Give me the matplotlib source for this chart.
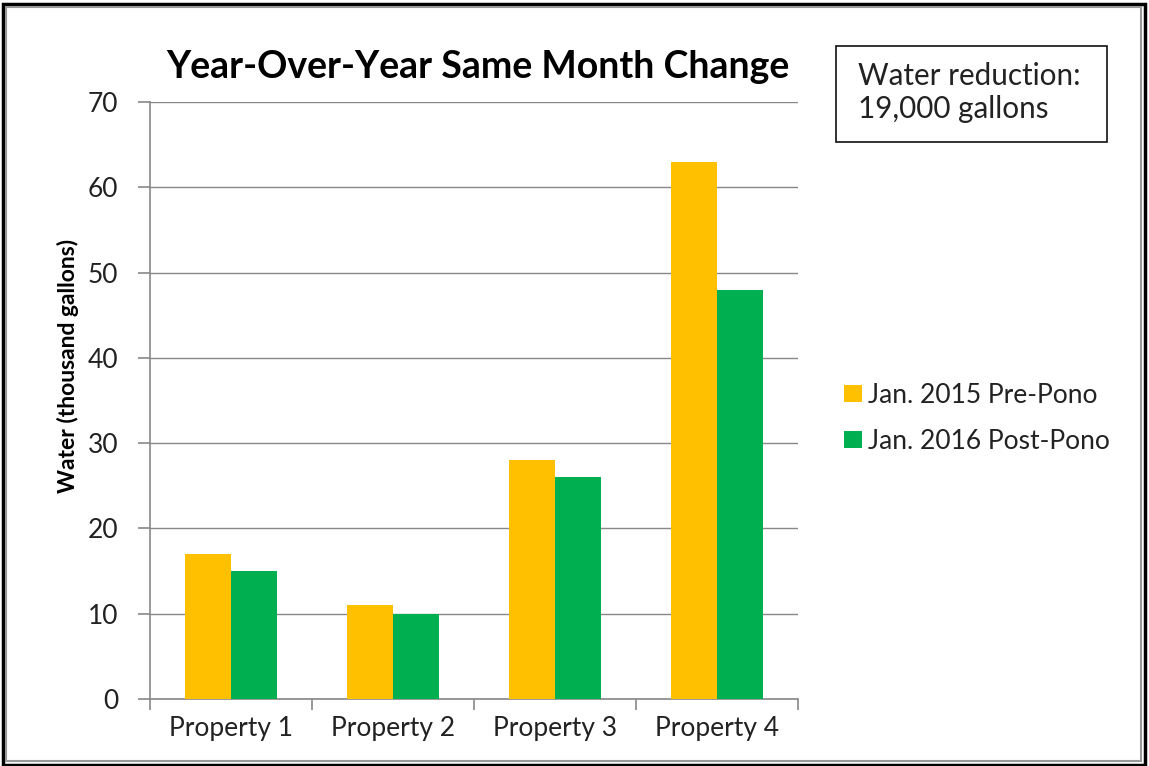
import matplotlib
matplotlib.use("Agg")
import matplotlib.pyplot as plt
from matplotlib.patches import Rectangle
import numpy as np

categories = ["Property 1", "Property 2", "Property 3", "Property 4"]
pre_pono = [17, 11, 28, 63]
post_pono = [15, 10, 26, 48]
series_labels = ["Jan. 2015 Pre-Pono", "Jan. 2016 Post-Pono"]
colors = ["#FFC000", "#00B050"]
yticks = [0, 10, 20, 30, 40, 50, 60, 70]

plt.rcParams['font.family'] = ['Lato', 'DejaVu Sans']

fig = plt.figure(figsize=(11.49, 7.66), dpi=100)
ax = fig.add_axes([150/1149, 1-699/766, 648/1149, 597/766])

x = np.arange(len(categories))
w = 0.284
b1 = ax.bar(x - w/2, pre_pono, w, color=colors[0], label=series_labels[0], zorder=3)
b2 = ax.bar(x + w/2, post_pono, w, color=colors[1], label=series_labels[1], zorder=3)

ax.set_xlim(-0.5, len(categories) - 0.5)
ax.set_ylim(0, 70)
ax.set_yticks(yticks)
ax.set_yticklabels([str(v) for v in yticks], fontsize=19, color="#222222")
ax.set_xticks(x)
ax.set_xticklabels(categories, fontsize=19, color="#222222")
ax.tick_params(axis='x', length=0, pad=12)
ax.set_xticks(np.arange(-0.5, len(categories)), minor=True)
ax.tick_params(axis='x', which='minor', length=8, color="#888888", width=1.2)
ax.tick_params(axis='y', length=9, color="#888888", width=1.2, pad=14)
ax.yaxis.grid(True, color="#888888", linewidth=1.0, zorder=0)
for s in ["top", "right"]:
    ax.spines[s].set_visible(False)
for s in ["left", "bottom"]:
    ax.spines[s].set_color("#888888")
    ax.spines[s].set_linewidth(1.2)

fig.text(68/1149, 1-366/766, "Water (thousand gallons)", rotation=90, ha='center', va='center',
         fontsize=16.5, fontweight='bold')
fig.text(478/1149, 1-67/766, "Year-Over-Year Same Month Change", ha='center', va='center',
         fontsize=27, fontweight='bold')

leg = fig.legend(handles=[b1, b2], loc='upper left', bbox_to_anchor=(820/1149, 1-359/766),
                 frameon=False, fontsize=19, handlelength=0.68, handleheight=0.57,
                 handletextpad=0.25, labelspacing=0.8)
for t in leg.get_texts():
    t.set_color("#222222")

# text box
fig.patches.append(Rectangle((836/1149, 1-142/766), 271/1149, 96/766, transform=fig.transFigure,
                             fill=False, edgecolor="#111111", linewidth=1.2))
fig.text(858/1149, 1-76/766, "Water reduction:", fontsize=21.3, va='center', ha='left', color="#222222")
fig.text(858/1149, 1-109/766, "19,000 gallons", fontsize=21.3, va='center', ha='left', color="#222222")

# outer frame with shadow
fig.patches.append(Rectangle((3/1149, 1-765/766), 1142/1149, 761/766, transform=fig.transFigure,
                             fill=False, edgecolor="#000000", linewidth=2.5))
fig.patches.append(Rectangle((6/1149, 1-761/766), 1135/1149, 754/766, transform=fig.transFigure,
                             fill=False, edgecolor="#999999", linewidth=1.5))

fig.savefig("out.png", dpi=100)
